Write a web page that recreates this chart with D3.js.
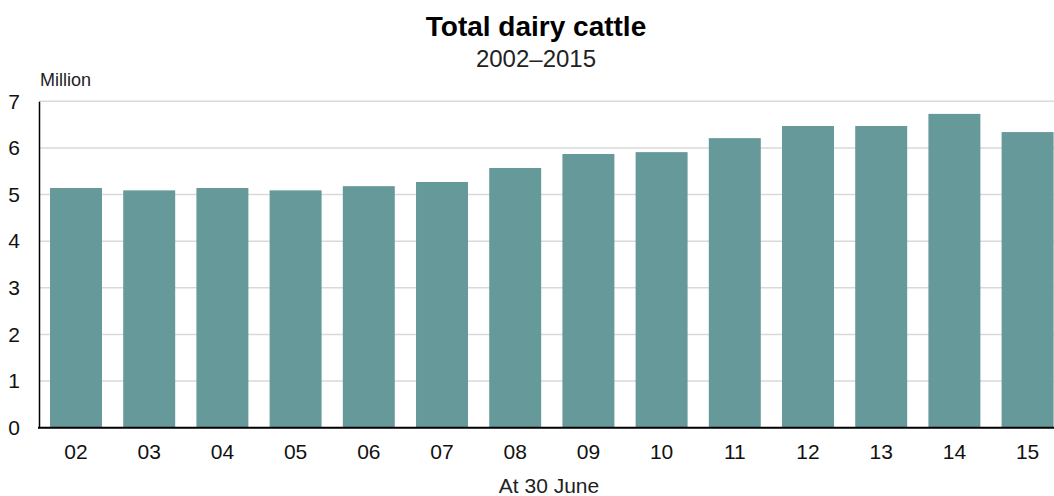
<!DOCTYPE html>
<html>
<head>
<meta charset="utf-8">
<script src="https://cdn.jsdelivr.net/npm/d3@7"></script>
<style>
  body { margin: 0; background: #fff; }
  svg { display: block; font-family: "Liberation Sans", Arial, sans-serif; }
  .grid line { stroke: #d9d9d9; stroke-width: 1.5; }
</style>
</head>
<body>
<svg width="1054" height="496"></svg>
<script>
// data
var years = ["02", "03", "04", "05", "06", "07", "08", "09", "10", "11", "12", "13", "14", "15"];
var cattle = [5.14, 5.09, 5.14, 5.09, 5.18, 5.27, 5.57, 5.87, 5.91, 6.21, 6.47, 6.47, 6.73, 6.34];
var yTicks = [0, 1, 2, 3, 4, 5, 6, 7];

var svg = d3.select("svg"),
    width = +svg.attr("width"),
    height = +svg.attr("height");

var data = years.map(function(d, i) { return {year: d, value: cattle[i]}; });

// band range runs past the right edge, the last bar gets cut like in the original
var x = d3.scaleBand()
    .domain(years)
    .range([39.4, 1064.2])
    .paddingInner(0.29)
    .paddingOuter(0.145);

var y = d3.scaleLinear()
    .domain([0, 7])
    .range([427.7, 101.3]);

// gridlines
svg.append("g")
    .attr("class", "grid")
    .selectAll("line")
    .data(yTicks.filter(function(d) { return d > 0; }))
    .enter().append("line")
      .attr("x1", 39)
      .attr("x2", width)
      .attr("y1", function(d) { return y(d); })
      .attr("y2", function(d) { return y(d); });

// bars
svg.append("g")
    .selectAll("rect")
    .data(data)
    .enter().append("rect")
      .attr("x", function(d) { return x(d.year); })
      .attr("y", function(d) { return y(d.value); })
      .attr("width", x.bandwidth())
      .attr("height", function(d) { return y(0) - y(d.value); })
      .attr("fill", "#669999");

// y axis
var yAxis = svg.append("g")
    .attr("transform", "translate(39,0)")
    .call(d3.axisLeft(y).tickValues(yTicks).tickSize(0).tickPadding(19).tickFormat(d3.format("d")));
yAxis.select(".domain").attr("stroke", "#000").attr("stroke-width", 1.5);
yAxis.selectAll("text")
    .attr("font-size", 21)
    .attr("font-family", "Liberation Sans, Arial, sans-serif")
    .attr("fill", "#111");

// x axis
var xAxis = svg.append("g")
    .attr("transform", "translate(0," + y(0) + ")")
    .call(d3.axisBottom(x).tickSize(0).tickPadding(16));
xAxis.select(".domain").remove();
xAxis.selectAll("text")
    .attr("font-size", 21)
    .attr("font-family", "Liberation Sans, Arial, sans-serif")
    .attr("fill", "#111");

svg.append("line")
    .attr("x1", 38)
    .attr("x2", width)
    .attr("y1", y(0))
    .attr("y2", y(0))
    .attr("stroke", "#000")
    .attr("stroke-width", 2);

// titles
svg.append("text")
    .attr("x", 536)
    .attr("y", 36)
    .attr("text-anchor", "middle")
    .attr("font-size", 28)
    .attr("font-weight", "bold")
    .attr("fill", "#000")
    .text("Total dairy cattle");

svg.append("text")
    .attr("x", 536)
    .attr("y", 67)
    .attr("text-anchor", "middle")
    .attr("font-size", 24)
    .attr("fill", "#222")
    .text("2002–2015");

svg.append("text")
    .attr("x", 40)
    .attr("y", 86)
    .attr("font-size", 18)
    .attr("fill", "#222")
    .text("Million");

svg.append("text")
    .attr("x", 549)
    .attr("y", 493)
    .attr("text-anchor", "middle")
    .attr("font-size", 21)
    .attr("fill", "#222")
    .text("At 30 June");
</script>
</body>
</html>
